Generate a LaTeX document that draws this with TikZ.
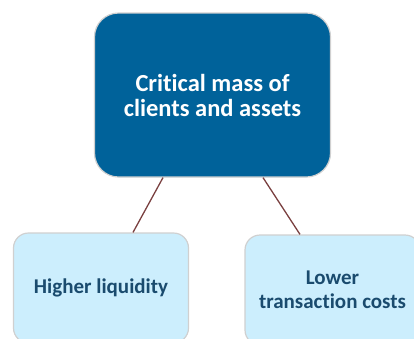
\documentclass[tikz,border=0pt]{standalone}
\usepackage{fontspec}
\setmainfont[Ligatures=NoCommon]{Carlito}
\definecolor{topblue}{HTML}{00629A}
\definecolor{lightbox}{HTML}{CCEEFD}
\definecolor{darktext}{HTML}{1A4B6E}
\definecolor{linkbrown}{HTML}{7A4040}
\definecolor{edgegray}{HTML}{D0D0D0}
\begin{document}
\begin{tikzpicture}[x=1pt,y=-1pt,
  topbox/.style={draw=edgegray, line width=1.2pt, fill=topblue, rounded corners=24pt,
    minimum width=236pt, minimum height=164pt, text=white, align=center,
    font=\fontsize{24.5}{25}\selectfont\bfseries, inner sep=0pt},
  leafbox/.style={draw=edgegray, line width=1.2pt, fill=lightbox, rounded corners=15pt,
    minimum width=175pt, minimum height=110pt, text=darktext, align=center,
    font=\fontsize{21}{23.5}\selectfont\bfseries, inner sep=0pt},
  link/.style={draw=linkbrown, line width=1.3pt}]
\useasboundingbox (0,0) rectangle (414,338);
\clip (0,0) rectangle (414,338);
\node[topbox] (top) at (212.5,95) {Critical mass of\\clients and assets};
\node[leafbox] (left) at (101,288) {Higher liquidity};
\node[leafbox] (right) at (332.5,290) {Lower\\transaction costs};
\draw[link] (top.south -| 163,0) -- (left.north -| 133,0);
\draw[link] (top.south -| 263,0) -- (right.north -| 300,0);
\end{tikzpicture}
\end{document}
